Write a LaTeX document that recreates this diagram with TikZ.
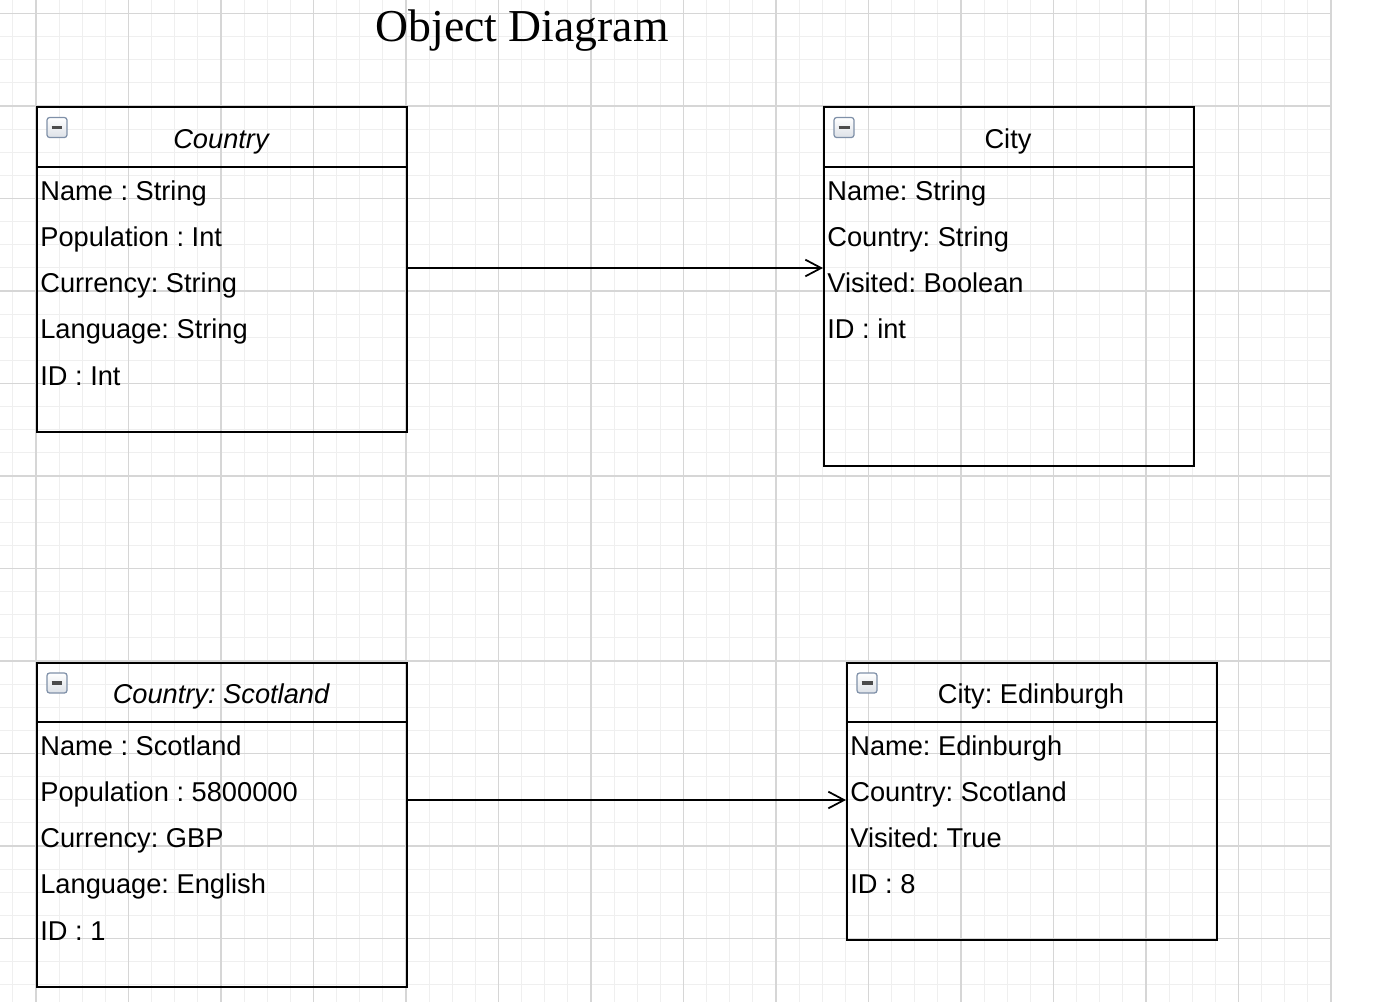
\documentclass[tikz,border=0pt]{standalone}
\usepackage{fontspec}
\setmainfont{Liberation Sans}
\newfontfamily\headfont{Liberation Serif}
\usepackage{tikz}
\usetikzlibrary{positioning,calc,arrows.meta}
\frenchspacing

\definecolor{gridlight}{HTML}{EFEFEF}
\definecolor{griddark}{HTML}{D6D6D6}
\definecolor{iconedge}{HTML}{7F90A8}
\definecolor{iconfill}{HTML}{DDE1E7}

\tikzset{
  objbox/.style={draw, line width=1.15pt, anchor=north west, minimum width=7.4cm, inner sep=0},
  objname/.style={anchor=base, inner sep=0, font={\fontsize{15.5}{18}\selectfont}},
  attr/.style={anchor=base west, inner sep=0, font={\fontsize{15.5}{18}\selectfont}},
  collapse/.style={draw=iconedge, top color=white, bottom color=iconfill, rounded corners=1.5pt,
    minimum size=0.4cm, inner sep=0, line width=0.7pt,
    path picture={\draw[line width=2pt, black!70]
      ([xshift=-0.11cm]path picture bounding box.center) --
      ([xshift=0.11cm]path picture bounding box.center);}},
  assoc/.style={line width=1.1pt, -{Straight Barb[length=9pt, width=9.5pt, line width=1pt]}}
}

\begin{document}
\begin{tikzpicture}[x=0.02cm, y=-0.02cm]
  \useasboundingbox (0,0) rectangle (1386,1002);

  % Grid
  \foreach \i in {-1,...,56}
    \draw[gridlight, line width=0.6pt] ({36+23.125*\i},0) -- ({36+23.125*\i},1002);
  \foreach \j in {0,...,42}
    \draw[gridlight, line width=0.6pt] (0,{13.5+23.125*\j}) -- (1332,{13.5+23.125*\j});
  \foreach \i in {0,...,14}
    \draw[griddark, line width=0.6pt] ({36+92.5*\i},0) -- ({36+92.5*\i},1002);
  \foreach \j in {0,...,10}
    \draw[griddark, line width=0.6pt] (0,{13.5+92.5*\j}) -- (1332,{13.5+92.5*\j});

  % Title
  \node[anchor=base, inner sep=0, font={\headfont\fontsize{26}{30}\selectfont}] (title) at (522,41) {Object Diagram};

  % Class: Country
  \node[objbox, minimum height=6.5cm] (country) at (36,106) {};
  \draw[line width=1.15pt] (country.north west) ++(0,61) -- ++(370,0);
  \node[collapse] (countryicon) at (57,127.5) {};
  \node[objname] (countryname) at (221,148) {\itshape Country};
  \foreach \k/\t in {0/Name : String, 1/Population : Int, 2/Currency: String, 3/Language: String, 4/ID : Int}
    \node[attr] (countryattr\k) at (40,{200+46.25*\k}) {\t};

  % Class: City
  \node[objbox, minimum height=7.18cm] (city) at (823,106) {};
  \draw[line width=1.15pt] (city.north west) ++(0,61) -- ++(370,0);
  \node[collapse] (cityicon) at (844,127.5) {};
  \node[objname] (cityname) at (1008,148) {City};
  \foreach \k/\t in {0/Name: String, 1/Country: String, 2/Visited: Boolean, 3/ID : int}
    \node[attr] (cityattr\k) at (827,{200+46.25*\k}) {\t};

  % Object: Scotland
  \node[objbox, minimum height=6.48cm] (scotland) at (36,662) {};
  \draw[line width=1.15pt] (scotland.north west) ++(0,60) -- ++(370,0);
  \node[collapse] (scotlandicon) at (57,683) {};
  \node[objname] (scotlandname) at (221,703) {\itshape Country: Scotland};
  \foreach \k/\t in {0/Name : Scotland, 1/Population : 5800000, 2/Currency: GBP, 3/Language: English, 4/ID : 1}
    \node[attr] (scotlandattr\k) at (40,{755+46.25*\k}) {\t};

  % Object: Edinburgh
  \node[objbox, minimum height=5.54cm] (edinburgh) at (846,662) {};
  \draw[line width=1.15pt] (edinburgh.north west) ++(0,60) -- ++(370,0);
  \node[collapse] (edinburghicon) at (867,683) {};
  \node[objname] (edinburghname) at (1031,703) {City: Edinburgh};
  \foreach \k/\t in {0/Name: Edinburgh, 1/Country: Scotland, 2/Visited: True, 3/ID : 8}
    \node[attr] (edinburghattr\k) at (850,{755+46.25*\k}) {\t};

  % Associations
  \draw[assoc] (country.east |- 0,268) -- (city.west |- 0,268);
  \draw[assoc] (scotland.east |- 0,800) -- (edinburgh.west |- 0,800);
\end{tikzpicture}
\end{document}
